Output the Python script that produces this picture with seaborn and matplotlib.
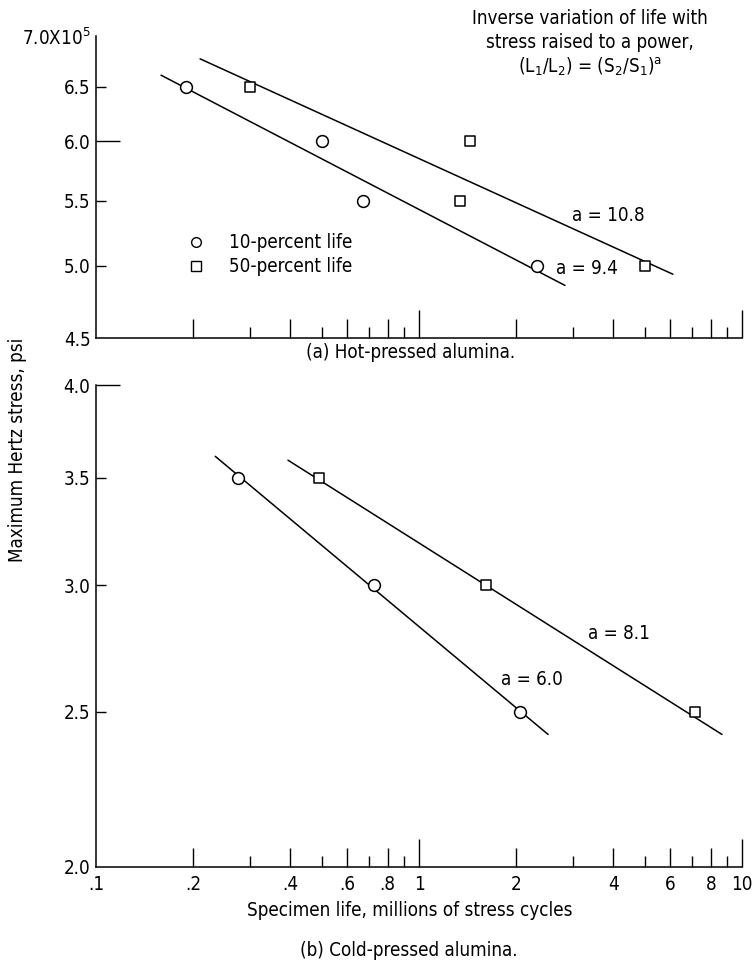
import matplotlib
matplotlib.use("Agg")
import matplotlib.pyplot as plt
import seaborn as sns
import pandas as pd
from matplotlib.ticker import FixedLocator, FixedFormatter, NullFormatter
from matplotlib import font_manager

# ---------------- data ----------------
# (a) Hot-pressed alumina, stress in units of 1e5 psi, life in millions of cycles
hot_10_life = [0.19, 0.50, 0.67, 2.32]
hot_10_stress = [6.5, 6.0, 5.5, 5.0]
hot_50_life = [0.30, 1.44, 1.34, 5.0]
hot_50_stress = [6.5, 6.0, 5.5, 5.0]
hot_fit10_life = [0.159, 2.83]
hot_fit10_stress = [6.61, 4.86]
hot_fit50_life = [0.210, 6.11]
hot_fit50_stress = [6.77, 4.94]

# (b) Cold-pressed alumina
cold_10_life = [0.275, 0.726, 2.05]
cold_10_stress = [3.5, 3.0, 2.5]
cold_50_life = [0.49, 1.61, 7.15]
cold_50_stress = [3.5, 3.0, 2.5]
cold_fit10_life = [0.234, 2.51]
cold_fit10_stress = [3.61, 2.42]
cold_fit50_life = [0.393, 8.67]
cold_fit50_stress = [3.59, 2.42]

x_major = [0.1, 0.2, 0.4, 0.6, 0.8, 1, 2, 4, 6, 8, 10]
x_major_labels = [".1", ".2", ".4", ".6", ".8", "1", "2", "4", "6", "8", "10"]
x_minor = [0.3, 0.5, 0.7, 0.9, 3, 5, 7, 9]

hot_yticks = [4.5, 5.0, 5.5, 6.0, 6.5, 7.0]
hot_ylabels = ["4.5", "5.0", "5.5", "6.0", "6.5", "7.0X10$^5$"]
cold_yticks = [2.0, 2.5, 3.0, 3.5, 4.0]
cold_ylabels = ["2.0", "2.5", "3.0", "3.5", "4.0"]

# ---------------- style ----------------
sns.set_theme(style="ticks")
plt.rcParams["font.family"] = ["DejaVu Sans"]
plt.rcParams["font.stretch"] = "condensed"
plt.rcParams["mathtext.fontset"] = "custom"
plt.rcParams["mathtext.rm"] = "DejaVu Sans:stretch=condensed"
plt.rcParams["mathtext.it"] = "DejaVu Sans:stretch=condensed"
plt.rcParams["mathtext.default"] = "rm"
plt.rcParams["axes.linewidth"] = 1.1
for k in ["text.color", "axes.labelcolor", "xtick.color", "ytick.color", "axes.edgecolor"]:
    plt.rcParams[k] = "black"

W, H = 752, 964
fig = plt.figure(figsize=(W / 100, H / 100), dpi=100)

def px_axes(l, t, r, b):
    return fig.add_axes([l / W, 1 - b / H, (r - l) / W, (b - t) / H])

ax1 = px_axes(96, 36, 742, 338)
ax2 = px_axes(96, 385, 742, 867)

LW = 1.1
MS = 8.5
TS = 13.5

def draw_panel(ax, l10, s10, l50, s50, f10l, f10s, f50l, f50s):
    df_f10 = pd.DataFrame({"life": f10l, "stress": f10s})
    df_f50 = pd.DataFrame({"life": f50l, "stress": f50s})
    sns.lineplot(data=df_f10, x="life", y="stress", ax=ax, color="black", lw=LW, sort=False)
    sns.lineplot(data=df_f50, x="life", y="stress", ax=ax, color="black", lw=LW, sort=False)
    df10 = pd.DataFrame({"life": l10, "stress": s10})
    df50 = pd.DataFrame({"life": l50, "stress": s50})
    sns.scatterplot(data=df10, x="life", y="stress", ax=ax, marker="o", s=MS ** 2,
                    facecolor="white", edgecolor="black", linewidth=1.1, zorder=5)
    sns.scatterplot(data=df50, x="life", y="stress", ax=ax, marker="s", s=(MS * 0.9) ** 2,
                    facecolor="white", edgecolor="black", linewidth=1.1, zorder=5)
    ax.set_xscale("log")
    ax.set_yscale("log")
    ax.set_xlim(0.1, 10)
    ax.set_xlabel("")
    ax.set_ylabel("")
    sns.despine(ax=ax)
    ax.set_facecolor("white")

draw_panel(ax1, hot_10_life, hot_10_stress, hot_50_life, hot_50_stress,
           hot_fit10_life, hot_fit10_stress, hot_fit50_life, hot_fit50_stress)
draw_panel(ax2, cold_10_life, cold_10_stress, cold_50_life, cold_50_stress,
           cold_fit10_life, cold_fit10_stress, cold_fit50_life, cold_fit50_stress)

ax1.set_ylim(4.5, 7.0)
ax2.set_ylim(2.0, 4.0)

def x_ticks(ax, labels):
    ax.xaxis.set_major_locator(FixedLocator(x_major))
    ax.xaxis.set_minor_locator(FixedLocator(x_minor))
    if labels:
        ax.xaxis.set_major_formatter(FixedFormatter(x_major_labels))
    else:
        ax.xaxis.set_major_formatter(NullFormatter())
    ax.xaxis.set_minor_formatter(NullFormatter())
    ax.tick_params(axis="x", which="major", direction="in", length=14, width=1.0,
                   labelsize=TS, pad=6, colors="black")
    ax.tick_params(axis="x", which="minor", direction="in", length=8, width=1.0)
    for t, v in zip(ax.xaxis.get_major_ticks(), x_major):
        if v in (1, 10):
            t.tick1line.set_markersize(20)
        if v == 0.1:
            t.tick1line.set_markersize(0)

def y_ticks(ax, ticks, labels, long_val):
    ax.yaxis.set_major_locator(FixedLocator(ticks))
    ax.yaxis.set_major_formatter(FixedFormatter(labels))
    ax.yaxis.set_minor_locator(FixedLocator([]))
    ax.yaxis.set_minor_formatter(NullFormatter())
    ax.tick_params(axis="y", which="major", direction="in", length=7, width=1.0,
                   labelsize=TS, pad=4, colors="black")
    for t, v in zip(ax.yaxis.get_major_ticks(), ticks):
        if v == long_val:
            t.tick1line.set_markersize(17)
        elif v in (ticks[0], ticks[-1]):
            t.tick1line.set_markersize(0)

x_ticks(ax1, False)
x_ticks(ax2, True)
y_ticks(ax1, hot_yticks, hot_ylabels, 6.0)
y_ticks(ax2, cold_yticks, cold_ylabels, 4.0)

# legend (top panel)
ax1.plot([0.155], [0.317], transform=ax1.transAxes, marker="o", ms=7, mfc="white",
         mec="black", mew=1.0, ls="none")
ax1.plot([0.155], [0.237], transform=ax1.transAxes, marker="s", ms=6.5, mfc="white",
         mec="black", mew=1.0, ls="none")
ax1.text(0.206, 0.317, "10-percent life", transform=ax1.transAxes, fontsize=TS,
         va="center", ha="left")
ax1.text(0.206, 0.237, "50-percent life", transform=ax1.transAxes, fontsize=TS,
         va="center", ha="left")

# exponent labels
ax1.text(2.98, 5.38, "a = 10.8", fontsize=TS, va="center", ha="left")
ax1.text(2.65, 4.98, "a = 9.4", fontsize=TS, va="center", ha="left")
ax2.text(1.79, 2.62, "a = 6.0", fontsize=TS, va="center", ha="left")
ax2.text(3.34, 2.80, "a = 8.1", fontsize=TS, va="center", ha="left")

def ftext(x, y, s, **kw):
    fig.text(x / W, 1 - y / H, s, **kw)

ftext(590, 18, "Inverse variation of life with", fontsize=TS, ha="center", va="center")
ftext(590, 43, "stress raised to a power,", fontsize=TS, ha="center", va="center")
ftext(590, 67, "(L$_1$/L$_2$) = (S$_2$/S$_1$)$^a$", fontsize=TS, ha="center", va="center")

ftext(411, 352, "(a) Hot-pressed alumina.", fontsize=TS, ha="center", va="center")
ftext(410, 911, "Specimen life, millions of stress cycles", fontsize=TS, ha="center", va="center")
ftext(409, 950, "(b) Cold-pressed alumina.", fontsize=TS, ha="center", va="center")
ftext(18, 450, "Maximum Hertz stress, psi", fontsize=TS, ha="center", va="center", rotation=90)

fig.savefig("out.png", dpi=100, facecolor="white")
